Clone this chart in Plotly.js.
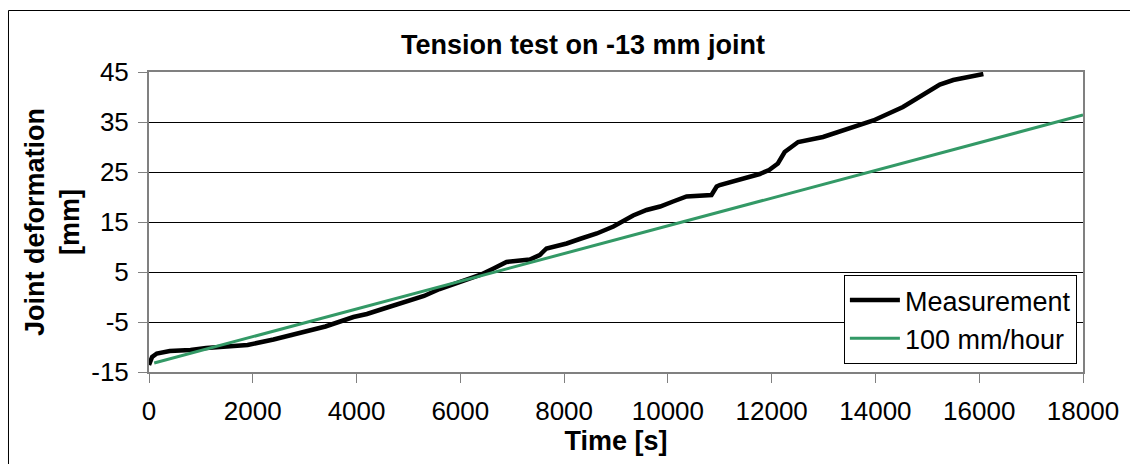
<!DOCTYPE html>
<html>
<head>
<meta charset="utf-8">
<script src="https://cdn.plot.ly/plotly-3.0.1.min.js"></script>
<style>html,body{margin:0;padding:0;background:#fff;}#chart{width:1130px;height:464px;}</style>
</head>
<body>
<div id="chart"></div>
<script>
// Measurement: time [s] and joint deformation [mm]
var measTime = [0, 20, 60, 150, 400, 800, 1100, 1500, 1900, 2400, 2900, 3400, 3940, 4200, 4500, 4970, 5300, 5600, 5990, 6380, 6640, 6890, 7340, 7530, 7660, 8050, 8300, 8630, 8950, 9330, 9590, 9850, 10100, 10360, 10840, 10940, 11000, 11390, 11770, 11950, 12120, 12250, 12510, 12990, 13500, 13960, 14530, 14860, 15240, 15500, 15760, 16080];
var measDef = [-13.6, -13.0, -12.0, -11.3, -10.8, -10.6, -10.2, -9.9, -9.6, -8.5, -7.3, -5.9, -4.0, -3.4, -2.4, -0.9, 0.2, 1.6, 2.9, 4.4, 5.7, 7.0, 7.5, 8.4, 9.7, 10.7, 11.6, 12.7, 14.1, 16.3, 17.4, 18.1, 19.1, 20.1, 20.4, 22.1, 22.4, 23.5, 24.6, 25.4, 26.7, 29.0, 31.0, 32.0, 33.7, 35.3, 38.0, 40.1, 42.5, 43.4, 44.0, 44.6];
// Reference rate line
var rateTime = [100, 18000];
var rateDef = [-13.2, 36.4];

var xTicks = [0, 2000, 4000, 6000, 8000, 10000, 12000, 14000, 16000, 18000];
var yTicks = [-15, -5, 5, 15, 25, 35, 45];

var FONT = 'Arial, "Liberation Sans", sans-serif';

var traces = [
  {x: measTime, y: measDef, type: 'scatter', mode: 'lines', name: 'Measurement',
   line: {color: '#000000', width: 4.5}, legendgroup: 'a'},
  {x: rateTime, y: rateDef, type: 'scatter', mode: 'lines', name: '100 mm/hour',
   line: {color: '#339966', width: 3}, legendgroup: 'b'}
];

var layout = {
  width: 1130, height: 464,
  margin: {l: 149, r: 47, t: 72, b: 92},
  paper_bgcolor: '#ffffff', plot_bgcolor: '#ffffff',
  font: {family: FONT, color: '#000', size: 26},
  title: {text: '<b>Tension test on -13 mm joint</b>', font: {family: FONT, size: 27, color: '#000'},
          xref: 'container', x: 0.516, xanchor: 'center', yref: 'container', y: 0.905, yanchor: 'middle'},
  xaxis: {range: [0, 18000], tickvals: xTicks, ticktext: xTicks.map(String),
          showgrid: false, zeroline: false, showline: true, linecolor: '#808080', linewidth: 2, mirror: true,
          ticks: 'outside', ticklen: 9, tickcolor: '#808080', tickwidth: 1, ticklabelstandoff: 6,
          tickfont: {family: FONT, size: 26, color: '#000'},
          title: {text: '<b>Time [s]</b>', font: {family: FONT, size: 27, color: '#000'}, standoff: 0}},
  yaxis: {range: [-15, 45], tickvals: yTicks, ticktext: yTicks.map(String),
          showgrid: true, gridcolor: '#000000', gridwidth: 1, zeroline: false,
          showline: true, linecolor: '#808080', linewidth: 2, mirror: true,
          ticks: 'outside', ticklen: 9, tickcolor: '#808080', tickwidth: 1, ticklabelstandoff: 4,
          tickfont: {family: FONT, size: 26, color: '#000'},
          title: {text: '<b>Joint deformation<br>[mm]</b>', font: {family: FONT, size: 27, color: '#000'}, standoff: 4}},
  showlegend: true,
  legend: {x: 0.744, y: 0.3233, xanchor: 'left', yanchor: 'top', bgcolor: '#ffffff',
           bordercolor: '#000000', borderwidth: 1, font: {family: FONT, size: 27, color: '#000'},
           tracegroupgap: 10, traceorder: 'normal', itemwidth: 50},
  shapes: [
    {type: 'rect', xref: 'paper', yref: 'paper', x0: -0.15043, x1: 1.0557, y0: -0.3267, y1: 1.205,
     line: {color: '#000000', width: 1}, fillcolor: 'rgba(0,0,0,0)', layer: 'below'}
  ]
};

Plotly.newPlot('chart', traces, layout, {displayModeBar: false, staticPlot: true});
</script>
</body>
</html>
